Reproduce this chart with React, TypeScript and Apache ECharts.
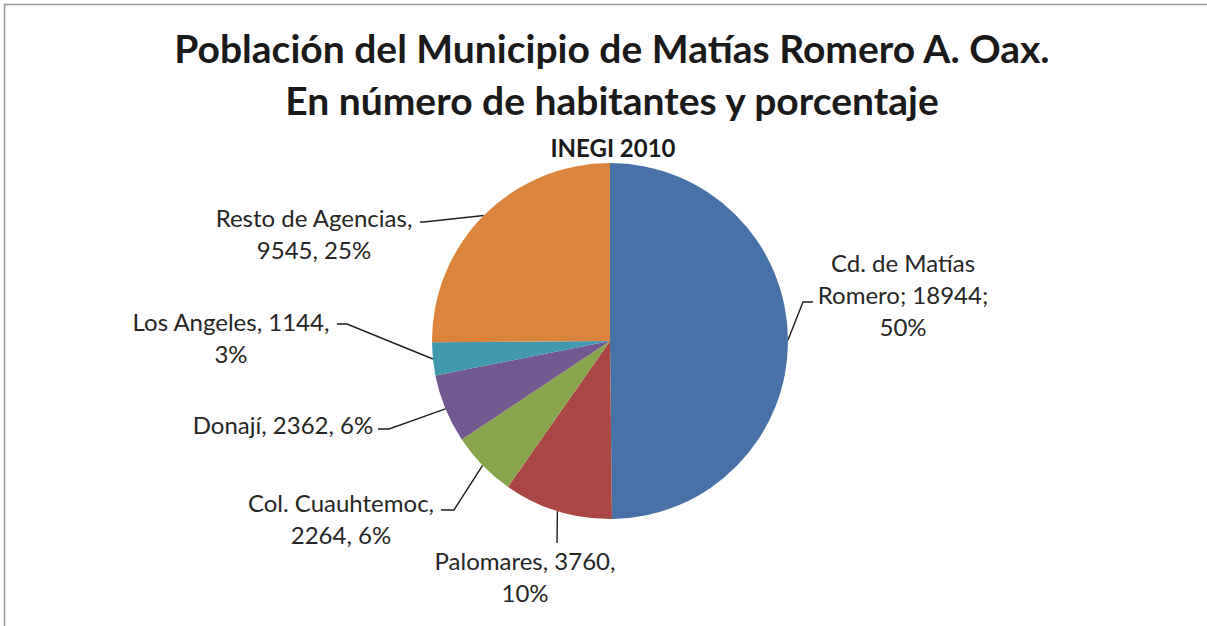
import React, { useEffect, useRef } from "react";
import * as echarts from "echarts";

const categories = [
  "Cd. de Matías Romero",
  "Palomares",
  "Col. Cuauhtemoc",
  "Donají",
  "Los Angeles",
  "Resto de Agencias",
];
const populations = [18944, 3760, 2264, 2362, 1144, 9545];
const colors = ["#4672A8", "#AA4643", "#89A54E", "#71588F", "#4198AF", "#DB843D"];

const titleLines = [
  "Población del Municipio de Matías Romero A. Oax.",
  "En número de habitantes y porcentaje",
];
const subtitle = "INEGI 2010";

// label block placement (center x, middle y) and line elbows
const labelPlacement = [
  { x: 903, y: 294, line: [[803, 302], [813, 302]] },
  { x: 525, y: 576, line: [[557, 543], [557, 543]] },
  { x: 341, y: 518, line: [[454, 510], [441, 510]] },
  { x: 283, y: 424, line: [[389, 429], [378, 429]] },
  { x: 231, y: 337, line: [[347, 324], [337, 324]] },
  { x: 314, y: 233, line: [[424, 222], [420, 222]] },
];

function labelText(i: number, name: string, value: number, pct: number): string {
  switch (i) {
    case 0:
      return `Cd. de Matías\nRomero; ${value};\n${pct}%`;
    case 1:
      return `${name}, ${value},\n${pct}%`;
    case 2:
      return `${name},\n${value}, ${pct}%`;
    case 3:
      return `${name}, ${value}, ${pct}%`;
    case 4:
      return `${name}, ${value},\n${pct}%`;
    default:
      return `${name},\n${value}, ${pct}%`;
  }
}

export default function App() {
  const ref = useRef<HTMLDivElement>(null);
  useEffect(() => {
    if (!ref.current) return;
    const chart = echarts.init(ref.current, undefined, { renderer: "svg" });
    const font = "Lato";
    chart.setOption({
      animation: false,
      backgroundColor: "#ffffff",
      textStyle: { fontFamily: font },
      title: [
        {
          text: titleLines.join("\n"),
          left: 607,
          textAlign: "center",
          top: 17,
          textStyle: {
            fontFamily: font,
            fontSize: 39,
            fontWeight: "bold",
            color: "#1a1a1a",
            lineHeight: 52,
          },
        },
        {
          text: subtitle,
          left: 608,
          textAlign: "center",
          top: 130,
          textStyle: {
            fontFamily: font,
            fontSize: 24,
            fontWeight: "bold",
            color: "#1a1a1a",
          },
        },
      ],
      graphic: [
        {
          type: "line",
          shape: { x1: 4, y1: 4.5, x2: 1207, y2: 4.5 },
          style: { stroke: "#9a9a9a", lineWidth: 1.5 },
        },
        {
          type: "line",
          shape: { x1: 4.5, y1: 4, x2: 4.5, y2: 626 },
          style: { stroke: "#9a9a9a", lineWidth: 1.5 },
        },
      ],
      series: [
        {
          type: "pie",
          center: [610, 341],
          radius: 178,
          startAngle: 90,
          clockwise: true,
          avoidLabelOverlap: false,
          percentPrecision: 0,
          color: colors,
          itemStyle: { borderWidth: 0 },
          label: {
            show: true,
            position: "outside",
            fontFamily: font,
            fontSize: 24,
            lineHeight: 32,
            color: "#262626",
            align: "center",
            formatter: (p: any) => labelText(p.dataIndex, p.name, p.value, Math.round(p.percent)),
          },
          labelLine: {
            show: true,
            length: 20,
            length2: 10,
            lineStyle: { color: "#1f1f1f", width: 1.4 },
          },
          labelLayout: (params: any) => {
            const pl = labelPlacement[params.dataIndex];
            const start = params.labelLinePoints ? params.labelLinePoints[0] : pl.line[0];
            return {
              x: pl.x,
              y: pl.y,
              align: "center",
              verticalAlign: "middle",
              labelLinePoints: [start, pl.line[0], pl.line[1]],
            };
          },
          data: categories.map((c, i) => ({ name: c, value: populations[i] })),
        },
      ],
    });
    return () => chart.dispose();
  }, []);
  return (
    <div
      ref={ref}
      style={{ position: "absolute", left: 0, top: 0, width: 1207, height: 626 }}
    />
  );
}
